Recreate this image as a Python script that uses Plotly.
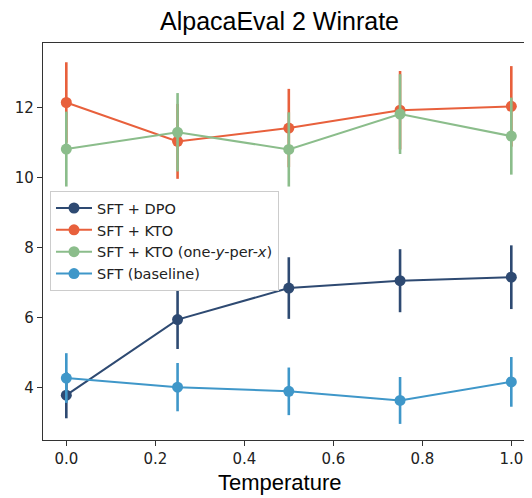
import plotly.graph_objects as go

temps = [0.0, 0.25, 0.5, 0.75, 1.0]

series_names = ["SFT + DPO", "SFT + KTO", "SFT + KTO (one-<i>y</i>-per-<i>x</i>)", "SFT (baseline)"]
series_colors = ["#2e4a72", "#e8603c", "#8bbd8b", "#3f97c9"]

dpo = [3.79, 5.95, 6.85, 7.06, 7.16]
dpo_err = [0.66, 0.84, 0.88, 0.90, 0.91]

kto = [12.15, 11.04, 11.42, 11.93, 12.04]
kto_err = [1.15, 1.07, 1.12, 1.12, 1.15]

kto_one = [10.82, 11.30, 10.81, 11.82, 11.19]
kto_one_err = [1.07, 1.12, 1.06, 1.14, 1.10]

base = [4.28, 4.02, 3.90, 3.64, 4.17]
base_err = [0.71, 0.69, 0.68, 0.67, 0.71]

x_ticks = [0.0, 0.2, 0.4, 0.6, 0.8, 1.0]
y_ticks = [4, 6, 8, 10, 12]

fig = go.Figure()
for name, color, ys, es in zip(series_names, series_colors,
                               [dpo, kto, kto_one, base],
                               [dpo_err, kto_err, kto_one_err, base_err]):
    fig.add_trace(go.Scatter(
        x=temps, y=ys, name=name, mode="lines+markers",
        line=dict(color=color, width=2),
        marker=dict(color=color, size=11, symbol="circle"),
        error_y=dict(type="data", array=es, visible=True, color=color,
                     thickness=2.6, width=0),
    ))

fig.update_layout(
    width=524, height=490,
    margin=dict(l=35, r=0, t=35, b=58),
    paper_bgcolor="white", plot_bgcolor="white",
    font=dict(family="DejaVu Sans", size=15, color="#222"),
    legend=dict(x=0.0143, y=0.627, xanchor="left", yanchor="top",
                bgcolor="rgba(255,255,255,0.85)", bordercolor="#cccccc",
                borderwidth=1, font=dict(family="DejaVu Sans", size=14.5, color="#222"),
                traceorder="normal", itemwidth=36, tracegroupgap=0),
    showlegend=True,
    annotations=[
        dict(text="AlpacaEval 2 Winrate", xref="paper", yref="paper",
             x=(271.5 - 35) / 489, y=(432 - 13) / 397, xanchor="center", yanchor="middle",
             showarrow=False,
             font=dict(family="Liberation Sans, Arial", size=25, color="black")),
        dict(text="Temperature", xref="paper", yref="paper",
             x=(272 - 35) / 489, y=(432 - 474) / 397, xanchor="center", yanchor="middle",
             showarrow=False,
             font=dict(family="Liberation Sans, Arial", size=22, color="black")),
    ],
)
fig.update_xaxes(
    range=[-0.0524, 1.0465], tickvals=x_ticks, ticktext=[f"{v:.1f}" for v in x_ticks],
    showline=True, linecolor="#333", linewidth=1.2, mirror=True,
    ticks="outside", ticklen=5, tickcolor="#333", showgrid=False, zeroline=False,
    automargin=False,
    tickfont=dict(family="DejaVu Sans", size=15, color="#222"),
)
fig.update_yaxes(
    range=[2.51, 13.85], tickvals=y_ticks, ticktext=[str(v) for v in y_ticks],
    showline=True, linecolor="#333", linewidth=1.2, mirror=False,
    ticks="outside", ticklen=5, tickcolor="#333", showgrid=False, zeroline=False,
    automargin=False,
    tickfont=dict(family="DejaVu Sans", size=15, color="#222"),
)

fig.write_html("out.html")
